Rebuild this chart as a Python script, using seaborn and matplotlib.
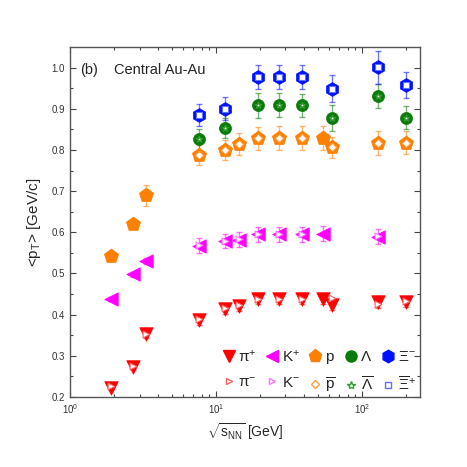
import matplotlib
matplotlib.use("Agg")
import matplotlib.pyplot as plt
import seaborn as sns
import pandas as pd
import numpy as np
from matplotlib.lines import Line2D
from matplotlib.ticker import LogLocator, FixedLocator, NullFormatter

sns.set_theme(style="ticks")
plt.rcParams['font.family'] = ['Liberation Sans', 'DejaVu Sans']
plt.rcParams['mathtext.fontset'] = 'custom'
plt.rcParams['mathtext.rm'] = 'Liberation Sans'
plt.rcParams['mathtext.it'] = 'Liberation Sans'

# ---- data ----
pip_E = [1.9, 2.7, 3.3, 7.7, 11.5, 14.5, 19.6, 27, 39, 54.4, 62.4, 130, 200]
pip_M = [0.223, 0.272, 0.352, 0.388, 0.413, 0.421, 0.437, 0.437, 0.437, 0.437, 0.424, 0.430, 0.430]
pip_err = [0.006, 0.006, 0.008, 0.012, 0.012, 0.012, 0.012, 0.012, 0.012, 0.012, 0.012, 0.013, 0.012]
pim_E = [1.9, 2.7, 3.3, 7.7, 11.5, 14.5, 19.6, 27, 39, 62.4, 130, 200]
pim_M = [0.226, 0.275, 0.354, 0.390, 0.415, 0.423, 0.439, 0.439, 0.439, 0.441, 0.426, 0.432]

kp_E = [1.9, 2.7, 3.3, 7.7, 11.5, 14.5, 19.6, 27, 39, 54.4, 130]
kp_M = [0.438, 0.498, 0.530, 0.567, 0.579, 0.582, 0.595, 0.595, 0.595, 0.597, 0.589]
kp_err = [0.005, 0.006, 0.007, 0.018, 0.018, 0.018, 0.018, 0.018, 0.018, 0.018, 0.018]
km_E = [7.7, 11.5, 14.5, 19.6, 27, 39, 130]
km_M = [0.569, 0.580, 0.583, 0.596, 0.596, 0.596, 0.590]

p_E = [1.9, 2.7, 3.3, 7.7, 11.5, 14.5, 19.6, 27, 39, 54.4, 62.4, 130, 200]
p_M = [0.543, 0.619, 0.690, 0.787, 0.800, 0.815, 0.828, 0.829, 0.829, 0.829, 0.806, 0.817, 0.818]
p_err = [0.006, 0.008, 0.026, 0.024, 0.025, 0.027, 0.028, 0.028, 0.028, 0.028, 0.026, 0.029, 0.028]
pbar_E = [7.7, 11.5, 14.5, 19.6, 27, 39, 62.4, 130, 200]
pbar_M = [0.787, 0.800, 0.815, 0.828, 0.829, 0.829, 0.806, 0.817, 0.818]

lam_E = [7.7, 11.5, 19.6, 27, 39, 62.4, 130, 200]
lam_M = [0.826, 0.853, 0.908, 0.909, 0.908, 0.878, 0.932, 0.878]
lam_err = [0.026, 0.025, 0.030, 0.030, 0.029, 0.031, 0.029, 0.028]
lbar_E = [7.7, 11.5, 19.6, 27, 39, 62.4, 130, 200]
lbar_M = [0.826, 0.853, 0.908, 0.909, 0.908, 0.878, 0.932, 0.878]

xi_E = [7.7, 11.5, 19.6, 27, 39, 62.4, 130, 200]
xi_M = [0.885, 0.900, 0.977, 0.977, 0.977, 0.949, 1.001, 0.957]
xi_err = [0.027, 0.028, 0.030, 0.030, 0.030, 0.032, 0.040, 0.032]
xibar_E = [7.7, 11.5, 19.6, 27, 39, 62.4, 130, 200]
xibar_M = [0.885, 0.900, 0.977, 0.977, 0.977, 0.949, 1.001, 0.957]

labels = ['π$^{+}$', 'π$^{-}$', 'K$^{+}$', 'K$^{-}$', 'p', r'$\overline{\rm p}$',
          'Λ', r'$\overline{\Lambda}$', 'Ξ$^{-}$', r'$\overline{\Xi}^{+}$']

RED = '#ff0000'; MAG = '#ff00ff'; ORA = '#ff7f00'; GRN = '#0a7a0a'; BLU = '#0010ff'
RED_L = '#ff6060'; MAG_L = '#ff70ff'; ORA_L = '#ffa040'; GRN_L = '#30a030'; BLU_L = '#6070ff'

fig = plt.figure(figsize=(4.67, 4.67), dpi=100)
ax = fig.add_axes([70/467, 70/467, 350/467, 350/467])

# error bars
for E, M, err, c in [(pip_E, pip_M, pip_err, RED), (kp_E, kp_M, kp_err, MAG),
                     (p_E, p_M, p_err, ORA), (lam_E, lam_M, lam_err, GRN),
                     (xi_E, xi_M, xi_err, BLU)]:
    ax.errorbar(E, M, yerr=err, fmt='none', ecolor=c, alpha=0.55, elinewidth=1.0,
                capsize=2.5, capthick=1.0, zorder=2)

main = [(pip_E, pip_M, 'v', RED, 95), (kp_E, kp_M, '<', MAG, 95),
        (p_E, p_M, 'p', ORA, 115), (lam_E, lam_M, 'o', GRN, 75),
        (xi_E, xi_M, 'h', BLU, 100)]
for E, M, m, c, s in main:
    df = pd.DataFrame({'E': E, 'M': M})
    sns.scatterplot(data=df, x='E', y='M', marker=m, color=c, s=s, edgecolor=c,
                    linewidth=0.5, ax=ax, zorder=3, legend=False)

anti = [(pim_E, pim_M, '>', RED_L, 24), (km_E, km_M, '>', MAG_L, 24),
        (pbar_E, pbar_M, 'D', ORA_L, 18), (lbar_E, lbar_M, '*', GRN_L, 22),
        (xibar_E, xibar_M, 's', BLU_L, 22)]
for E, M, m, c, s in anti:
    df = pd.DataFrame({'E': E, 'M': M})
    sns.scatterplot(data=df, x='E', y='M', marker=m, color='white', s=s, edgecolor=c,
                    linewidth=0.8, ax=ax, zorder=4, legend=False)

ax.set_xscale('log')
ax.set_xlim(1, 251)
ax.set_ylim(0.2, 1.05)
ax.set_yticks([0.2, 0.3, 0.4, 0.5, 0.6, 0.7, 0.8, 0.9, 1.0])
ax.yaxis.set_minor_locator(FixedLocator(np.arange(0.25, 1.05, 0.1)))
ax.xaxis.set_major_locator(LogLocator(base=10, numticks=10))
ax.xaxis.set_minor_locator(LogLocator(base=10, subs=np.arange(2, 10), numticks=20))
ax.xaxis.set_minor_formatter(NullFormatter())

ax.tick_params(which='both', direction='in', top=True, right=True, colors='#444444',
               labelcolor='#333333', labelsize=7, width=0.8)
ax.tick_params(which='major', length=4)
ax.tick_params(which='minor', length=2.5)
for sp in ax.spines.values():
    sp.set_color('#555555')
    sp.set_linewidth(1.0)

ax.set_xlabel(r'$\sqrt{s_{\rm NN}}$ [GeV]', fontsize=10, labelpad=4)
ax.set_ylabel(r'<p$_{\rm T}$> [GeV/c]', fontsize=11, labelpad=6)

ax.text(0.03, 0.955, '(b)', transform=ax.transAxes, fontsize=10.5, va='top')
ax.text(0.125, 0.955, 'Central Au-Au', transform=ax.transAxes, fontsize=10.5, va='top')

handles = [
    Line2D([], [], ls='none', marker='v', color=RED, markersize=9),
    Line2D([], [], ls='none', marker='>', markerfacecolor='white', markeredgecolor=RED_L, markersize=5),
    Line2D([], [], ls='none', marker='<', color=MAG, markersize=9),
    Line2D([], [], ls='none', marker='>', markerfacecolor='white', markeredgecolor=MAG_L, markersize=5),
    Line2D([], [], ls='none', marker='p', color=ORA, markersize=9.5),
    Line2D([], [], ls='none', marker='D', markerfacecolor='white', markeredgecolor=ORA_L, markersize=4.5),
    Line2D([], [], ls='none', marker='o', color=GRN, markersize=8),
    Line2D([], [], ls='none', marker='*', markerfacecolor='white', markeredgecolor=GRN_L, markersize=6),
    Line2D([], [], ls='none', marker='h', color=BLU, markersize=9),
    Line2D([], [], ls='none', marker='s', markerfacecolor='white', markeredgecolor=BLU_L, markersize=5),
]
ax.legend(handles, labels, ncol=5, loc='lower right', bbox_to_anchor=(1.015, -0.02),
          frameon=False, fontsize=11, handletextpad=0.15, columnspacing=0.5,
          handlelength=1.0, labelspacing=0.75, borderaxespad=0.2)

fig.savefig('out.png', dpi=100)
